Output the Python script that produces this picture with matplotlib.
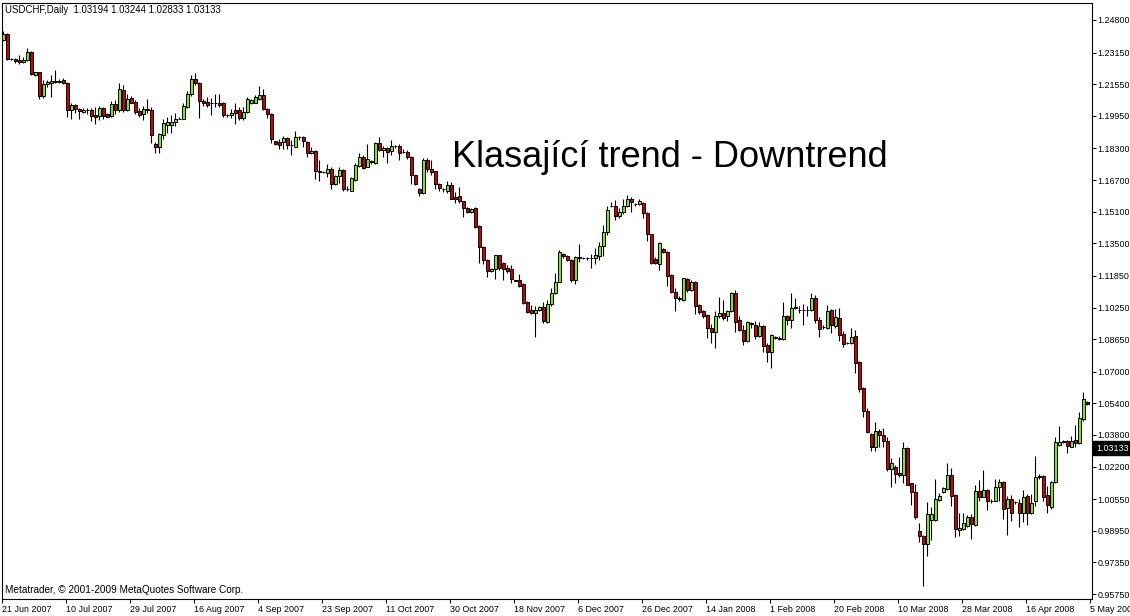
import matplotlib
matplotlib.use("Agg")
import matplotlib.pyplot as plt
from matplotlib import transforms

# ---------------- data (USDCHF daily) ----------------
opens = [
    1.2379, 1.2409, 1.2283, 1.2283, 1.2275, 1.2267, 1.2278, 1.2317, 1.2199, 1.2216,
    1.2095, 1.2155, 1.2160, 1.2170, 1.2168, 1.2176, 1.2160, 1.2022, 1.2050, 1.2029,
    1.2015, 1.2024, 1.2025, 1.1999, 1.1996, 1.2034, 1.2004, 1.1994, 1.2054, 1.2022,
    1.2126, 1.2025, 1.2085, 1.2065, 1.2019, 1.2004, 1.2027, 1.2025, 1.1853, 1.1839,
    1.1898, 1.1949, 1.1951, 1.1964, 1.1979, 1.1981, 1.2042, 1.2106, 1.2180, 1.2160,
    1.2069, 1.2065, 1.2060, 1.2060, 1.2062, 1.2059, 1.2000, 1.1998, 1.2022, 1.2022,
    1.1984, 1.2015, 1.2062, 1.2062, 1.2082, 1.2100, 1.2029, 1.2004, 1.1867, 1.1863,
    1.1860, 1.1883, 1.1847, 1.1839, 1.1890, 1.1890, 1.1863, 1.1806, 1.1816, 1.1715,
    1.1713, 1.1708, 1.1725, 1.1649, 1.1688, 1.1721, 1.1627, 1.1617, 1.1670, 1.1743,
    1.1786, 1.1738, 1.1764, 1.1755, 1.1857, 1.1822, 1.1832, 1.1816, 1.1842, 1.1842,
    1.1812, 1.1812, 1.1786, 1.1695, 1.1627, 1.1604, 1.1769, 1.1728, 1.1715, 1.1650,
    1.1625, 1.1617, 1.1644, 1.1583, 1.1589, 1.1563, 1.1529, 1.1508, 1.1526, 1.1438,
    1.1333, 1.1266, 1.1209, 1.1219, 1.1290, 1.1252, 1.1225, 1.1219, 1.1163, 1.1164,
    1.1144, 1.1053, 1.1013, 1.0999, 1.1010, 1.1027, 1.0954, 1.1042, 1.1098, 1.1156,
    1.1298, 1.1285, 1.1265, 1.1163, 1.1280, 1.1276, 1.1275, 1.1275, 1.1275, 1.1288,
    1.1335, 1.1406, 1.1539, 1.1538, 1.1487, 1.1507, 1.1538, 1.1575, 1.1549, 1.1548,
    1.1554, 1.1503, 1.1396, 1.1271, 1.1244, 1.1321, 1.1305, 1.1187, 1.1103, 1.1071,
    1.1062, 1.1169, 1.1113, 1.1156, 1.1038, 1.1008, 1.0987, 1.0920, 1.0903, 1.0981,
    1.0997, 1.0984, 1.1005, 1.1096, 1.0961, 1.0910, 1.0856, 1.0947, 1.0937, 1.0883,
    1.0931, 1.0836, 1.0799, 1.0875, 1.0871, 1.0866, 1.0981, 1.0961, 1.1027, 1.1013,
    1.1012, 1.1013, 1.1012, 1.1072, 1.0962, 1.0924, 1.0921, 1.1013, 1.0932, 1.0972,
    1.0891, 1.0843, 1.0845, 1.0881, 1.0750, 1.0618, 1.0501, 1.0385, 1.0321, 1.0399,
    1.0379, 1.0349, 1.0207, 1.0217, 1.0187, 1.0177, 1.0314, 1.0136, 1.0089, 0.9893,
    0.9869, 0.9826, 0.9950, 0.9950, 1.0051, 1.0089, 1.0106, 1.0177, 1.0076, 0.9899,
    0.9906, 0.9920, 0.9964, 0.9927, 1.0096, 1.0068, 1.0102, 1.0046, 1.0048, 1.0116,
    1.0142, 1.0011, 1.0055, 1.0040, 1.0038, 0.9987, 1.0071, 0.9984, 1.0045, 1.0168,
    1.0170, 1.0076, 1.0018, 1.0142, 1.0329, 1.0347, 1.0349, 1.0321, 1.0355, 1.0339,
    1.0463, 1.0547,
]
highs = [
    1.2424, 1.2414, 1.2288, 1.2288, 1.2303, 1.2295, 1.2337, 1.2325, 1.2219, 1.2219,
    1.2176, 1.2176, 1.2202, 1.2227, 1.2180, 1.2186, 1.2166, 1.2059, 1.2055, 1.2035,
    1.2035, 1.2034, 1.2032, 1.2039, 1.2045, 1.2039, 1.2011, 1.2072, 1.2075, 1.2163,
    1.2150, 1.2106, 1.2095, 1.2075, 1.2032, 1.2045, 1.2079, 1.2039, 1.1863, 1.1910,
    1.1978, 1.1991, 1.1999, 1.2008, 1.1988, 1.2062, 1.2123, 1.2202, 1.2214, 1.2166,
    1.2079, 1.2089, 1.2085, 1.2106, 1.2103, 1.2065, 1.2004, 1.2029, 1.2059, 1.2039,
    1.2039, 1.2089, 1.2079, 1.2100, 1.2146, 1.2130, 1.2035, 1.2011, 1.1870, 1.1877,
    1.1893, 1.1890, 1.1873, 1.1917, 1.1893, 1.1893, 1.1870, 1.1839, 1.1822, 1.1769,
    1.1718, 1.1751, 1.1738, 1.1695, 1.1735, 1.1728, 1.1640, 1.1685, 1.1755, 1.1806,
    1.1796, 1.1850, 1.1769, 1.1863, 1.1887, 1.1842, 1.1839, 1.1873, 1.1847, 1.1853,
    1.1826, 1.1822, 1.1792, 1.1698, 1.1630, 1.1782, 1.1782, 1.1772, 1.1718, 1.1654,
    1.1629, 1.1664, 1.1660, 1.1610, 1.1634, 1.1566, 1.1533, 1.1529, 1.1533, 1.1442,
    1.1336, 1.1270, 1.1225, 1.1293, 1.1293, 1.1256, 1.1242, 1.1239, 1.1164, 1.1195,
    1.1148, 1.1057, 1.1037, 1.1033, 1.1033, 1.1053, 1.1062, 1.1123, 1.1199, 1.1315,
    1.1301, 1.1291, 1.1268, 1.1285, 1.1346, 1.1281, 1.1281, 1.1298, 1.1328, 1.1359,
    1.1443, 1.1538, 1.1558, 1.1568, 1.1528, 1.1572, 1.1592, 1.1582, 1.1554, 1.1575,
    1.1558, 1.1507, 1.1399, 1.1281, 1.1359, 1.1325, 1.1311, 1.1194, 1.1123, 1.1083,
    1.1176, 1.1173, 1.1166, 1.1159, 1.1045, 1.1012, 1.0994, 1.0941, 1.1008, 1.1078,
    1.1062, 1.1012, 1.1103, 1.1113, 1.0984, 1.0937, 1.0957, 1.0951, 1.0957, 1.0954,
    1.0937, 1.0843, 1.0890, 1.0880, 1.0881, 1.1052, 1.0987, 1.1096, 1.1072, 1.1032,
    1.1045, 1.1035, 1.1098, 1.1088, 1.0976, 1.0936, 1.1037, 1.1020, 1.1017, 1.1023,
    1.0905, 1.0848, 1.0921, 1.0911, 1.0754, 1.0625, 1.0517, 1.0389, 1.0446, 1.0412,
    1.0415, 1.0369, 1.0264, 1.0230, 1.0271, 1.0345, 1.0318, 1.0139, 1.0132, 0.9934,
    0.9873, 1.0041, 1.0018, 1.0159, 1.0086, 1.0116, 1.0237, 1.0213, 1.0079, 0.9984,
    0.9984, 0.9974, 0.9980, 1.0129, 1.0152, 1.0203, 1.0109, 1.0058, 1.0159, 1.0156,
    1.0146, 1.0071, 1.0076, 1.0048, 1.0058, 1.0102, 1.0079, 1.0079, 1.0274, 1.0183,
    1.0177, 1.0122, 1.0146, 1.0372, 1.0423, 1.0355, 1.0355, 1.0375, 1.0433, 1.0497,
    1.0598, 1.0551,
]
lows = [
    1.2374, 1.2275, 1.2277, 1.2264, 1.2256, 1.2264, 1.2272, 1.2199, 1.2196, 1.2082,
    1.2087, 1.2140, 1.2092, 1.2160, 1.2160, 1.2156, 1.1988, 1.1981, 1.2011, 1.1978,
    1.2008, 1.2004, 1.1968, 1.1954, 1.1974, 1.1981, 1.1988, 1.1988, 1.2004, 1.2015,
    1.2015, 1.2019, 1.2059, 1.2004, 1.1991, 1.1974, 1.2011, 1.1857, 1.1809, 1.1809,
    1.1877, 1.1907, 1.1910, 1.1941, 1.1977, 1.1978, 1.2034, 1.2095, 1.2150, 1.1986,
    1.2045, 1.2042, 1.2001, 1.2042, 1.2039, 1.1991, 1.1991, 1.1984, 1.1954, 1.1974,
    1.1974, 1.2008, 1.2055, 1.2059, 1.2075, 1.2022, 1.1984, 1.1857, 1.1847, 1.1829,
    1.1829, 1.1826, 1.1796, 1.1836, 1.1873, 1.1839, 1.1786, 1.1802, 1.1677, 1.1667,
    1.1708, 1.1685, 1.1627, 1.1644, 1.1654, 1.1617, 1.1615, 1.1614, 1.1667, 1.1738,
    1.1725, 1.1735, 1.1751, 1.1751, 1.1816, 1.1789, 1.1758, 1.1796, 1.1832, 1.1769,
    1.1806, 1.1776, 1.1650, 1.1644, 1.1589, 1.1600, 1.1711, 1.1698, 1.1627, 1.1614,
    1.1610, 1.1604, 1.1573, 1.1553, 1.1556, 1.1482, 1.1502, 1.1502, 1.1427, 1.1249,
    1.1245, 1.1179, 1.1205, 1.1168, 1.1215, 1.1164, 1.1202, 1.1148, 1.1158, 1.1131,
    1.1043, 1.0999, 1.0992, 1.0878, 1.1007, 1.0946, 1.0947, 1.1035, 1.1093, 1.1153,
    1.1278, 1.1258, 1.1153, 1.1143, 1.1254, 1.1268, 1.1265, 1.1224, 1.1244, 1.1265,
    1.1288, 1.1392, 1.1534, 1.1470, 1.1477, 1.1500, 1.1534, 1.1507, 1.1541, 1.1544,
    1.1480, 1.1362, 1.1244, 1.1244, 1.1217, 1.1301, 1.1136, 1.1099, 1.1005, 1.1058,
    1.1058, 1.1106, 1.1109, 1.0991, 1.0994, 1.0974, 1.0870, 1.0843, 1.0822, 1.0971,
    1.0964, 1.0957, 1.1001, 1.0903, 1.0906, 1.0833, 1.0853, 1.0920, 1.0866, 1.0876,
    1.0802, 1.0748, 1.0718, 1.0866, 1.0861, 1.0863, 1.0937, 1.0920, 1.1018, 1.0997,
    1.0934, 1.0984, 1.1007, 1.0946, 1.0875, 1.0918, 1.0918, 1.0898, 1.0921, 1.0855,
    1.0824, 1.0838, 1.0841, 1.0693, 1.0595, 1.0470, 1.0389, 1.0301, 1.0298, 1.0321,
    1.0321, 1.0200, 1.0119, 1.0136, 1.0167, 1.0136, 1.0126, 1.0028, 0.9954, 0.9836,
    0.9618, 0.9768, 0.9849, 0.9947, 1.0048, 1.0086, 1.0102, 1.0021, 0.9866, 0.9869,
    0.9899, 0.9914, 0.9856, 0.9917, 1.0045, 1.0065, 0.9998, 1.0038, 1.0045, 1.0048,
    0.9957, 0.9873, 0.9947, 1.0031, 0.9914, 0.9940, 0.9924, 0.9980, 1.0021, 1.0156,
    1.0048, 0.9984, 1.0008, 1.0139, 1.0324, 1.0339, 1.0288, 1.0318, 1.0318, 1.0335,
    1.0453, 1.0534,
]
closes = [
    1.2409, 1.2283, 1.2282, 1.2270, 1.2267, 1.2278, 1.2317, 1.2206, 1.2216, 1.2095,
    1.2155, 1.2165, 1.2171, 1.2168, 1.2170, 1.2160, 1.2022, 1.2050, 1.2029, 1.2017,
    1.2025, 1.2022, 1.1996, 1.1991, 1.2034, 1.1996, 1.1991, 1.2054, 1.2022, 1.2130,
    1.2025, 1.2079, 1.2062, 1.2015, 1.2001, 1.2029, 1.2025, 1.1898, 1.1836, 1.1902,
    1.1958, 1.1966, 1.1964, 1.1978, 1.1981, 1.2045, 1.2106, 1.2180, 1.2160, 1.2072,
    1.2059, 1.2052, 1.2059, 1.2058, 1.2049, 1.1998, 1.1997, 1.2011, 1.2011, 1.1984,
    1.2015, 1.2079, 1.2075, 1.2089, 1.2100, 1.2029, 1.2004, 1.1877, 1.1853, 1.1849,
    1.1883, 1.1846, 1.1846, 1.1887, 1.1888, 1.1867, 1.1806, 1.1816, 1.1715, 1.1713,
    1.1711, 1.1725, 1.1649, 1.1691, 1.1721, 1.1627, 1.1625, 1.1679, 1.1746, 1.1786,
    1.1730, 1.1776, 1.1761, 1.1857, 1.1822, 1.1832, 1.1812, 1.1842, 1.1841, 1.1806,
    1.1810, 1.1786, 1.1696, 1.1650, 1.1604, 1.1769, 1.1728, 1.1711, 1.1649, 1.1630,
    1.1624, 1.1644, 1.1576, 1.1573, 1.1563, 1.1529, 1.1508, 1.1523, 1.1432, 1.1330,
    1.1266, 1.1212, 1.1222, 1.1290, 1.1225, 1.1219, 1.1212, 1.1168, 1.1161, 1.1134,
    1.1050, 1.1003, 1.0996, 1.1013, 1.1027, 1.0956, 1.1042, 1.1098, 1.1156, 1.1305,
    1.1285, 1.1265, 1.1163, 1.1281, 1.1278, 1.1275, 1.1273, 1.1278, 1.1291, 1.1335,
    1.1406, 1.1518, 1.1538, 1.1487, 1.1507, 1.1538, 1.1575, 1.1558, 1.1548, 1.1564,
    1.1503, 1.1396, 1.1249, 1.1249, 1.1351, 1.1305, 1.1184, 1.1106, 1.1072, 1.1068,
    1.1173, 1.1113, 1.1156, 1.1035, 1.1001, 1.0984, 1.0920, 1.0900, 1.0981, 1.0997,
    1.0971, 1.1005, 1.1096, 1.0954, 1.0910, 1.0856, 1.0954, 1.0941, 1.0883, 1.0931,
    1.0829, 1.0799, 1.0886, 1.0873, 1.0868, 1.0981, 1.0961, 1.1025, 1.1025, 1.1012,
    1.1013, 1.1012, 1.1072, 1.0960, 1.0918, 1.0926, 1.1007, 1.0936, 1.0976, 1.0888,
    1.0841, 1.0845, 1.0875, 1.0746, 1.0615, 1.0500, 1.0397, 1.0321, 1.0399, 1.0379,
    1.0349, 1.0210, 1.0237, 1.0183, 1.0177, 1.0314, 1.0129, 1.0089, 0.9964, 0.9869,
    0.9826, 0.9980, 0.9980, 1.0055, 1.0071, 1.0112, 1.0177, 1.0071, 0.9903, 0.9909,
    0.9937, 0.9964, 0.9930, 1.0096, 1.0068, 1.0102, 1.0045, 1.0048, 1.0119, 1.0142,
    1.0008, 1.0055, 0.9987, 1.0041, 0.9984, 1.0065, 0.9984, 1.0038, 1.0167, 1.0170,
    1.0068, 1.0025, 1.0142, 1.0345, 1.0345, 1.0349, 1.0324, 1.0352, 1.0339, 1.0466,
    1.0561, 1.0537,
]

date_labels = ["21 Jun 2007", "10 Jul 2007", "29 Jul 2007", "16 Aug 2007", "4 Sep 2007",
               "23 Sep 2007", "11 Oct 2007", "30 Oct 2007", "18 Nov 2007", "6 Dec 2007",
               "26 Dec 2007", "14 Jan 2008", "1 Feb 2008", "20 Feb 2008", "10 Mar 2008",
               "28 Mar 2008", "16 Apr 2008", "5 May 2008"]
bars_per_label = 16
price_ticks = [1.24800, 1.23150, 1.21550, 1.19950, 1.18300, 1.16700, 1.15100, 1.13500,
               1.11850, 1.10250, 1.08650, 1.07000, 1.05400, 1.03800, 1.02200, 1.00550,
               0.98950, 0.97350, 0.95750]
last_price = 1.03133
header_text = "USDCHF,Daily  1.03194 1.03244 1.02833 1.03133"
title_text = "Klasající trend - Downtrend"
footer_text = "Metatrader, \u00a9 2001-2009 MetaQuotes Software Corp."

# ---------------- style ----------------
UP = "#84E800"
DOWN = "#D00000"
SMALL = 6.4
W, H = 1130, 616

plt.rcParams['font.family'] = ['Liberation Sans', 'DejaVu Sans']

fig = plt.figure(figsize=(W / 100, H / 100), dpi=100)
fig.patch.set_facecolor("white")
ax = fig.add_axes([2 / W, 17 / H, 1090 / W, 596 / H])
ax.set_facecolor("white")

idx = list(range(1, len(closes) + 1))
ax.vlines(idx, lows, highs, colors="black", linewidth=0.8, zorder=2)
bottoms = [min(o, c) for o, c in zip(opens, closes)]
heights = [abs(c - o) for o, c in zip(opens, closes)]
cols = [UP if c > o else DOWN for o, c in zip(opens, closes)]
ax.bar(idx, heights, bottom=bottoms, width=0.72, color=cols,
       edgecolor="black", linewidth=0.7, zorder=3)

ax.set_xlim(0.675, 273.175)
ax.set_ylim(0.95501, 1.25658)

# x axis (dates)
xt = [0.7 + bars_per_label * i for i in range(len(date_labels))]
ax.set_xticks(xt)
ax.set_xticklabels(date_labels, ha="left", fontsize=SMALL)
ax.tick_params(axis="x", direction="out", length=3, width=0.7, pad=1.5)

# y axis (prices) on the right
ax.yaxis.tick_right()
ax.set_yticks(price_ticks)
ax.set_yticklabels([f"{v:.5f}" for v in price_ticks], fontsize=SMALL)
ax.tick_params(axis="y", direction="out", length=3, width=0.7, pad=1)

for s in ax.spines.values():
    s.set_color("black")
    s.set_linewidth(0.8)

# current price marker
tr = transforms.offset_copy(ax.get_yaxis_transform(), fig=fig, x=4, y=0, units="dots")
ax.text(1.0, last_price, f"{last_price:.5f}", transform=tr, ha="left", va="center",
        fontsize=SMALL, color="white", clip_on=False, zorder=5,
        bbox=dict(boxstyle="square,pad=0.3", fc="black", ec="black"))

fig.text(5 / W, 1 - 10 / H, header_text, fontsize=6.9, ha="left", va="center")
fig.text(5 / W, 1 - 590 / H, footer_text, fontsize=7.2, ha="left", va="center")
fig.text(452 / W, 1 - 167 / H, title_text, fontsize=26, ha="left", va="baseline")

fig.savefig("out.png", dpi=100)
